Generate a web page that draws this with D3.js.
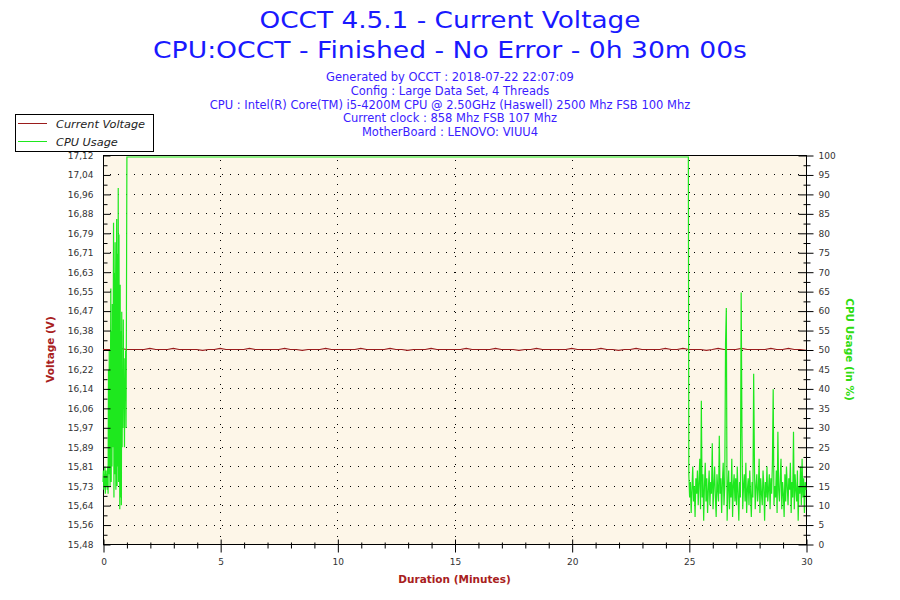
<!DOCTYPE html>
<html>
<head>
<meta charset="utf-8">
<script src="https://cdn.jsdelivr.net/npm/d3@7"></script>
<style>
  html, body { margin: 0; padding: 0; background: #fff; }
  svg { display: block; }
</style>
</head>
<body>
<svg id="chart" width="900" height="600"></svg>
<script>
// --- data ---
var titleLines = ['OCCT 4.5.1 - Current Voltage', 'CPU:OCCT - Finished - No Error - 0h 30m 00s'];
var titleWidths = [381, 594];
var infoLines = [
  'Generated by OCCT : 2018-07-22 22:07:09',
  'Config : Large Data Set, 4 Threads',
  'CPU : Intel(R) Core(TM) i5-4200M CPU @ 2.50GHz (Haswell) 2500 Mhz FSB 100 Mhz',
  'Current clock : 858 Mhz FSB 107 Mhz',
  'MotherBoard : LENOVO: VIUU4'
];
var legendNames = ['Current Voltage', 'CPU Usage'];

var voltDomain = [15.48, 17.12];
var voltTickLabels = ['15,48', '15,56', '15,64', '15,73', '15,81', '15,89', '15,97', '16,06', '16,14', '16,22',
  '16,30', '16,38', '16,47', '16,55', '16,63', '16,71', '16,79', '16,88', '16,96', '17,04', '17,12'];
var cpuTicks = [0, 5, 10, 15, 20, 25, 30, 35, 40, 45, 50, 55, 60, 65, 70, 75, 80, 85, 90, 95, 100];
var minuteTicks = [0, 5, 10, 15, 20, 25, 30];

// voltage, one sample every 15 s
var voltStep = 0.25;
var voltage = [16.30, 16.30, 16.30, 16.305, 16.30, 16.30, 16.30, 16.30, 16.305, 16.30,
  16.30, 16.30, 16.305, 16.30, 16.30, 16.30, 16.30, 16.296, 16.30, 16.30,
  16.305, 16.30, 16.30, 16.30, 16.30, 16.305, 16.30, 16.30, 16.30, 16.30,
  16.30, 16.305, 16.30, 16.30, 16.296, 16.30, 16.30, 16.30, 16.305, 16.30,
  16.30, 16.30, 16.30, 16.30, 16.305, 16.30, 16.30, 16.30, 16.30, 16.305,
  16.30, 16.30, 16.296, 16.30, 16.30, 16.30, 16.305, 16.30, 16.30, 16.30,
  16.30, 16.30, 16.305, 16.30, 16.30, 16.30, 16.30, 16.305, 16.30, 16.30,
  16.30, 16.296, 16.30, 16.30, 16.305, 16.30, 16.30, 16.30, 16.30, 16.30,
  16.305, 16.30, 16.30, 16.30, 16.30, 16.305, 16.30, 16.30, 16.296, 16.30,
  16.30, 16.305, 16.30, 16.30, 16.30, 16.30, 16.305, 16.30, 16.30, 16.305,
  16.30, 16.30, 16.30, 16.296, 16.30, 16.305, 16.30, 16.30, 16.30, 16.305,
  16.30, 16.30, 16.30, 16.30, 16.305, 16.30, 16.30, 16.305, 16.30, 16.30, 16.296];

// cpu usage: 1 s samples before the load, 2 s samples after it
var cpuStartStep = 1 / 60;
var cpuStart = [16, 19, 14, 18, 15, 20, 13, 17, 19, 15, 18, 14, 20,
  13, 45, 18, 50, 22, 15, 38,
  66, 16, 55, 20, 62, 25, 48,
  83, 12, 70, 18, 78, 30, 14, 60,
  84, 15, 75, 20, 92, 16, 80, 35,
  9, 67, 12, 55, 10, 60, 25, 45,
  30, 58, 35, 40, 25, 48, 38,
  50, 30, 60];
var cpuLoadFrom = 1.02, cpuLoadTo = 24.98, cpuLoadValue = 100;
var cpuEndFrom = 25.0;
var cpuEndStep = 2 / 60;
var cpuEnd = [18, 12, 16, 8, 14, 20, 11, 15, 7, 17,
  13, 19, 10, 16, 22, 9, 37, 12, 18, 6,
  15, 21, 11, 17, 8, 14, 19, 10, 16, 13,
  26, 9, 15, 20, 12, 7, 18, 14, 11, 28,
  13, 17, 8, 16, 21, 10, 15, 52, 61, 6,
  14, 19, 9, 16, 12, 22, 7, 15, 18, 11,
  17, 10, 20, 13, 6, 16, 12, 65, 29, 9,
  15, 18, 11, 21, 8, 14, 17, 10, 19, 13,
  7, 16, 12, 44, 20, 9, 15, 18, 11, 14,
  22, 8, 17, 13, 10, 19, 15, 6, 16, 12,
  20, 11, 14, 18, 9, 17, 13, 21, 40, 10,
  15, 12, 19, 8, 29, 14, 11, 17, 22, 9,
  16, 13, 7, 18, 11, 20, 15, 10, 17, 14,
  21, 8, 16, 12, 29, 9, 18, 14, 11, 19,
  6, 15, 13, 20, 10, 22, 12, 17, 8, 16, 14];

var OcctChart = (function () {
  var svg;
  var font = 'DejaVu Sans, Verdana, sans-serif';
  var colors = {
    title: '#1919ff',
    info: '#3b1cff',
    volt: '#9a1c1c',
    cpu: '#1ee81e',
    voltLabel: '#a82020',
    cpuLabel: '#2fdc10',
    plot: '#fdf6e8',
    tick: '#333333'
  };

  function init(id) {
    svg = d3.select('#' + id);
    svg.selectAll('*').remove();
    render();
  }

  function render() {
    var left = 103, right = 806, top = 155, bottom = 544;

    var x = d3.scaleLinear().domain([0, 30]).range([left, right]);
    var yV = d3.scaleLinear().domain(voltDomain).range([bottom, top]);
    var yC = d3.scaleLinear().domain([0, 100]).range([bottom, top]);
    // the usage trace sits just under the top frame line, as in OCCT
    var yCLine = d3.scaleLinear().domain([0, 100]).range([bottom, top + 2]);

    // titles
    titleLines.forEach(function (t, i) {
      svg.append('text')
        .attr('x', 450)
        .attr('y', 28 + i * 30)
        .attr('text-anchor', 'middle')
        .attr('fill', colors.title)
        .attr('font-size', '23.5px')
        .attr('font-family', font)
        .attr('textLength', titleWidths[i])
        .attr('lengthAdjust', 'spacingAndGlyphs')
        .text(t);
    });

    infoLines.forEach(function (t, i) {
      svg.append('text')
        .attr('x', 450)
        .attr('y', 81 + i * 13.8)
        .attr('text-anchor', 'middle')
        .attr('fill', colors.info)
        .attr('font-size', '11.5px')
        .attr('font-family', font)
        .text(t);
    });

    // plot background
    svg.append('rect')
      .attr('x', left).attr('y', top)
      .attr('width', right - left).attr('height', bottom - top)
      .attr('fill', colors.plot);

    // dotted grid
    var grid = svg.append('g').attr('class', 'grid');
    var voltTickValues = voltTickLabels.map(function (d, i) {
      return voltDomain[0] + i * (voltDomain[1] - voltDomain[0]) / (voltTickLabels.length - 1);
    });
    voltTickValues.slice(1, -1).forEach(function (v) {
      grid.append('line')
        .attr('x1', left).attr('x2', right)
        .attr('y1', Math.round(yV(v)) + 0.5).attr('y2', Math.round(yV(v)) + 0.5)
        .attr('stroke', '#000').attr('stroke-width', 1)
        .attr('stroke-dasharray', '1,7')
        .attr('stroke-dashoffset', -7);
    });
    minuteTicks.slice(1, -1).forEach(function (m) {
      grid.append('line')
        .attr('x1', Math.round(x(m)) + 0.5).attr('x2', Math.round(x(m)) + 0.5)
        .attr('y1', top).attr('y2', bottom)
        .attr('stroke', '#000').attr('stroke-width', 1)
        .attr('stroke-dasharray', '1,7')
        .attr('stroke-dashoffset', -5);
    });

    // series
    var voltPts = voltage.map(function (v, i) { return [i * voltStep, v]; });
    var cpuPts = cpuStart.map(function (v, i) { return [i * cpuStartStep, v]; });
    cpuPts.push([cpuLoadFrom, cpuLoadValue]);
    cpuPts.push([cpuLoadTo, cpuLoadValue]);
    cpuEnd.forEach(function (v, i) { cpuPts.push([cpuEndFrom + i * cpuEndStep, v]); });

    // frame
    svg.append('rect')
      .attr('x', left + 0.5).attr('y', top + 0.5)
      .attr('width', right - left).attr('height', bottom - top)
      .attr('fill', 'none')
      .attr('stroke', '#000')
      .attr('stroke-width', 1);

    svg.append('path')
      .datum(voltPts)
      .attr('fill', 'none')
      .attr('stroke', colors.volt)
      .attr('stroke-width', 1.2)
      .attr('d', d3.line()
        .x(function (d) { return x(d[0]); })
        .y(function (d) { return yV(d[1]); }));

    svg.append('path')
      .datum(cpuPts)
      .attr('fill', 'none')
      .attr('stroke', colors.cpu)
      .attr('stroke-width', 1.2)
      .attr('stroke-linejoin', 'miter')
      .attr('d', d3.line()
        .x(function (d) { return x(d[0]); })
        .y(function (d) { return yCLine(d[1]); }));

    // left axis
    var minorV = voltTickValues.slice(1).map(function (v, i) { return (v + voltTickValues[i]) / 2; });
    var gL = svg.append('g').attr('transform', 'translate(' + (left + 0.5) + ',0.5)');
    gL.call(d3.axisLeft(yV).tickValues(minorV).tickFormat('').tickSizeInner(-4).tickSizeOuter(0));
    var gL2 = svg.append('g').attr('transform', 'translate(' + (left + 0.5) + ',0.5)');
    gL2.call(d3.axisLeft(yV).tickValues(voltTickValues)
      .tickFormat(function (d, i) { return voltTickLabels[i]; })
      .tickSizeInner(2).tickSizeOuter(0).tickPadding(8));
    gL2.selectAll('.tick line').attr('x2', 7);

    // right axis
    var minorC = cpuTicks.slice(1).map(function (v) { return v - 2.5; });
    var gR = svg.append('g').attr('transform', 'translate(' + (right + 0.5) + ',0.5)');
    gR.call(d3.axisRight(yC).tickValues(minorC).tickFormat('').tickSizeOuter(0).tickSizeInner(4));
    gR.selectAll('.tick line').attr('x1', -3);
    var gR2 = svg.append('g').attr('transform', 'translate(' + (right + 0.5) + ',0.5)');
    gR2.call(d3.axisRight(yC).tickValues(cpuTicks).tickSizeOuter(0).tickSizeInner(7).tickPadding(5));
    gR2.selectAll('.tick line').attr('x1', -8);

    // bottom axis
    var minorM = d3.range(0, 31).filter(function (m) { return m % 5 !== 0; });
    var gB = svg.append('g').attr('transform', 'translate(0.5,' + (bottom + 0.5) + ')');
    gB.call(d3.axisBottom(x).tickValues(minorM).tickFormat('').tickSizeOuter(0).tickSizeInner(4));
    gB.selectAll('.tick line').attr('y1', -2);
    var gB2 = svg.append('g').attr('transform', 'translate(0.5,' + (bottom + 0.5) + ')');
    gB2.call(d3.axisBottom(x).tickValues(minuteTicks).tickSizeOuter(0).tickSizeInner(8).tickPadding(6));
    gB2.selectAll('.tick line').attr('y1', -5);

    [gL, gL2, gR, gR2, gB, gB2].forEach(function (g) {
      g.select('.domain').remove();
      g.selectAll('.tick line').attr('stroke', '#000');
      g.selectAll('.tick text')
        .attr('fill', colors.tick)
        .attr('font-size', '9px')
        .attr('font-family', font);
    });

    // axis titles
    svg.append('text')
      .attr('transform', 'translate(54,' + ((top + bottom) / 2) + ') rotate(-90)')
      .attr('text-anchor', 'middle')
      .attr('fill', colors.voltLabel)
      .attr('font-size', '10.5px')
      .attr('font-weight', 'bold')
      .attr('font-family', font)
      .text('Voltage (V)');

    svg.append('text')
      .attr('transform', 'translate(846,' + ((top + bottom) / 2) + ') rotate(90)')
      .attr('text-anchor', 'middle')
      .attr('fill', colors.cpuLabel)
      .attr('font-size', '10.5px')
      .attr('font-weight', 'bold')
      .attr('font-family', font)
      .text('CPU Usage (in %)');

    svg.append('text')
      .attr('x', (left + right) / 2)
      .attr('y', 583)
      .attr('text-anchor', 'middle')
      .attr('fill', colors.voltLabel)
      .attr('font-size', '10.5px')
      .attr('font-weight', 'bold')
      .attr('font-family', font)
      .text('Duration (Minutes)');

    // legend
    var lg = svg.append('g').attr('class', 'legend');
    lg.append('rect')
      .attr('x', 15.5).attr('y', 114.5)
      .attr('width', 138).attr('height', 37)
      .attr('fill', '#fff')
      .attr('stroke', '#000');
    [colors.volt, colors.cpu].forEach(function (c, i) {
      var ly = 123.5 + i * 18;
      lg.append('line')
        .attr('x1', 18).attr('x2', 47)
        .attr('y1', ly).attr('y2', ly)
        .attr('stroke', c).attr('stroke-width', 1);
      lg.append('text')
        .attr('x', 56)
        .attr('y', ly + 4)
        .attr('fill', '#222')
        .attr('font-size', '11.3px')
        .attr('font-style', 'italic')
        .attr('font-family', font)
        .text(legendNames[i]);
    });
  }

  return { init: init };
})();

OcctChart.init('chart');
</script>
</body>
</html>
